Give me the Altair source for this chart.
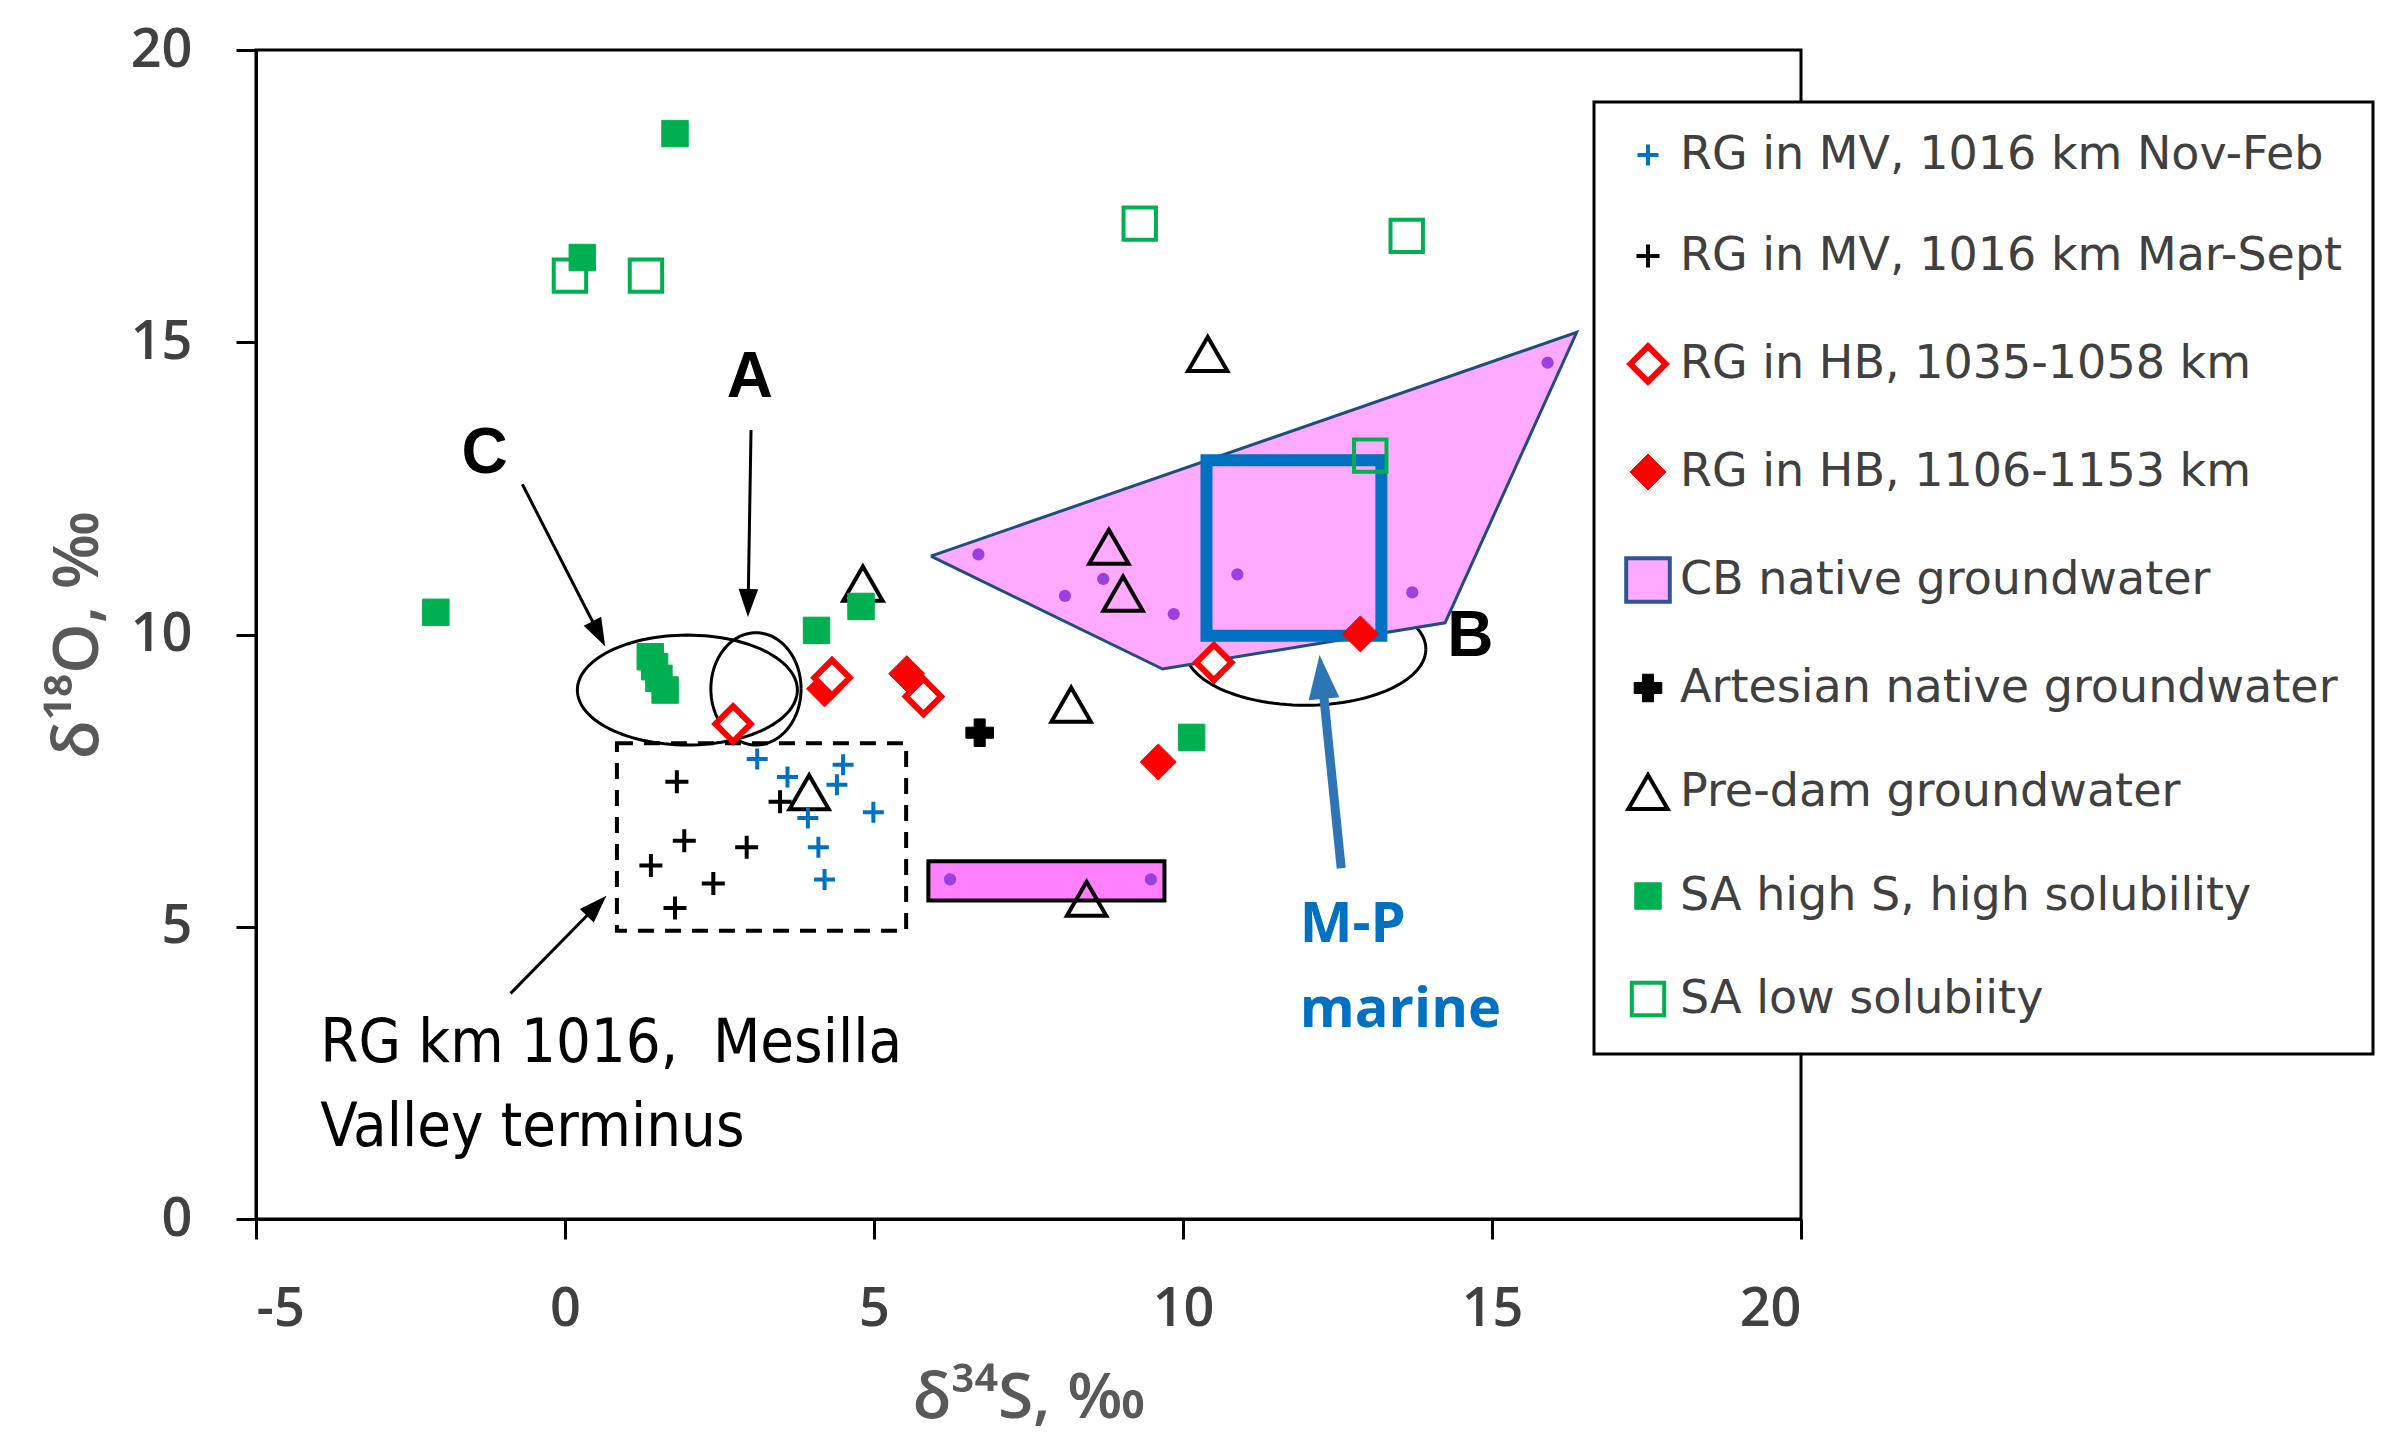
import math
import altair as alt
import pandas as pd

# ---------------- data ----------------
series_names = [
    "RG in MV, 1016 km Nov-Feb",
    "RG in MV, 1016 km Mar-Sept",
    "RG in HB, 1035-1058 km",
    "RG in HB, 1106-1153 km",
    "CB native groundwater",
    "Artesian native groundwater",
    "Pre-dam groundwater",
    "SA high S, high solubility",
    "SA low solubiity",
]

nov_feb_x = [3.11, 3.60, 3.93, 4.10, 4.20, 4.40, 4.50, 4.99]
nov_feb_y = [7.87, 7.56, 6.86, 6.36, 5.81, 7.43, 7.77, 6.96]
mar_sept_x = [1.81, 1.39, 1.93, 2.94, 2.40, 1.78, 3.48]
mar_sept_y = [7.48, 6.05, 6.47, 6.36, 5.74, 5.32, 7.14]
hb_low_x = [2.72, 4.32, 5.80, 10.50]
hb_low_y = [8.47, 9.26, 8.94, 9.52]
hb_high_x = [4.20, 5.53, 9.60, 12.87]
hb_high_y = [9.07, 9.33, 7.82, 10.01]
cb_x = [6.69, 8.09, 8.71, 9.85, 10.88, 13.71, 15.90, 6.23, 9.48]
cb_y = [11.37, 10.66, 10.95, 10.35, 11.03, 10.72, 14.65, 5.81, 5.81]
artesian_x = [6.71]
artesian_y = [8.32]
predam_x = [10.40, 4.82, 8.80, 9.03, 8.19, 3.95, 8.44]
predam_y = [14.80, 10.87, 11.50, 10.70, 8.80, 7.30, 5.48]
sa_high_x = [1.78, 0.28, -2.09, 4.07, 4.79, 1.38, 1.45, 1.52, 1.62, 10.14]
sa_high_y = [18.57, 16.45, 10.38, 10.07, 10.48, 9.62, 9.45, 9.25, 9.05, 8.24]
sa_low_x = [0.08, 1.31, 9.30, 13.62, 13.03]
sa_low_y = [16.14, 16.14, 17.03, 16.82, 13.06]

# CB native groundwater field (polygon vertices) and bar
cb_poly_x = [5.92, 9.67, 14.24, 16.37]
cb_poly_y = [11.34, 9.41, 10.20, 15.17]
cb_bar = [5.88, 9.70, 5.45, 6.12]          # x1, x2, y1, y2
mp_box = [10.38, 13.21, 9.98, 12.98]       # M-P marine box
rg_box = [0.84, 5.52, 4.93, 8.14]          # dashed box

# ellipses: C, A, B (centre x, centre y, rx, ry)
ell_cx = [1.98, 3.09, 11.98]
ell_cy = [9.05, 9.07, 9.75]
ell_rx = [1.78, 0.73, 1.95]
ell_ry = [0.94, 0.96, 0.96]

# arrows (from -> to)
arrow_x0 = [-0.69, 3.01, -0.88]
arrow_y0 = [12.57, 13.50, 3.86]
arrow_x1 = [0.65, 2.96, 0.67]
arrow_y1 = [9.80, 10.30, 5.53]
mp_arrow = [12.56, 6.00, 12.21, 9.65]

letter_text = ["C", "A", "B"]
letter_x = [-1.30, 2.99, 14.65]
letter_y = [13.09, 14.39, 9.96]
note_text = ["RG km 1016,\u00a0 Mesilla", "Valley terminus"]
note_x = [-3.96, -3.96]
note_y = [3.00, 1.56]
mp_text = ["M-P", "marine"]
mp_x = [11.89, 11.89]
mp_y = [5.03, 3.57]

# ---------------- layout ----------------
W, H = 1545, 1169
PXX, PXY = W / 25.0, H / 20.0
xs = alt.Scale(domain=[-5, 20], nice=False, zero=False)
ys = alt.Scale(domain=[0, 20], nice=False, zero=False)

PLUS = "M-1,0L1,0M0,-1L0,1"
HEAD = "M0,-1L0.7,1L-0.7,1Z"
shape_range = [PLUS, PLUS, "diamond", "diamond", "square", "cross", "triangle-up", "square", "square"]
fill_range = ["transparent", "transparent", "white", "#FF0000", "#FFAAFF", "black", "transparent", "#00B050", "transparent"]
stroke_range = ["#0070C0", "black", "#FF0000", "#FF0000", "#2F5597", "black", "black", "#00B050", "#00B050"]
size_range = [441, 529, 1250, 1300, 1900, 760, 1550, 700, 1050]
sw_range = [4, 4, 6, 1, 4, 1, 4, 1, 4]

rows = []
def add(name, xv, yv):
    for a, b in zip(xv, yv):
        rows.append({"series": name, "x": a, "y": b})

add(series_names[6], predam_x, predam_y)
add(series_names[1], mar_sept_x, mar_sept_y)
add(series_names[0], nov_feb_x, nov_feb_y)
add(series_names[3], hb_high_x, hb_high_y)
add(series_names[2], hb_low_x, hb_low_y)
add(series_names[5], artesian_x, artesian_y)
add(series_names[7], sa_high_x, sa_high_y)
add(series_names[8], sa_low_x, sa_low_y)
pts_df = pd.DataFrame(rows)

leg = alt.Legend(orient="none", legendX=1338, legendY=52, padding=30,
                 strokeColor="black", fillColor="white",
                 labelFontSize=46, labelFont="DejaVu Sans", labelColor="#404040",
                 labelLimit=1000, rowPadding=55, labelOffset=8)

x_axis = alt.Axis(
    values=[-5, 0, 5, 10, 15, 20], tickSize=20, tickWidth=3, tickColor="black",
    domainColor="black", domainWidth=3, grid=False,
    labelFontSize=54, labelFont="Open Sans", labelFontWeight=600, labelColor="#404040",
    labelPadding=43, labelExpr="replace(datum.label, '\u2212', '-')",
    title="δ³⁴S, ‰", titleFontSize=64, titleFont="Open Sans", titleFontWeight=600,
    titleColor="#595959", titlePadding=30)
y_axis = alt.Axis(
    values=[0, 5, 10, 15, 20], tickSize=20, tickWidth=3, tickColor="black",
    domainColor="black", domainWidth=3, grid=False,
    labelFontSize=54, labelFont="Open Sans", labelFontWeight=600, labelColor="#404040",
    labelPadding=44, title="δ¹⁸O, ‰", titleFontSize=64, titleFont="Open Sans",
    titleFontWeight=600, titleColor="#595959", titlePadding=20)

def X(f):
    return alt.X(f, scale=xs, axis=x_axis)
def Y(f):
    return alt.Y(f, scale=ys, axis=y_axis)

points = alt.Chart(pts_df).mark_point(opacity=1).encode(
    x=X("x:Q"), y=Y("y:Q"),
    shape=alt.Shape("series:N", title=None, legend=leg,
                    scale=alt.Scale(domain=series_names, range=shape_range)),
    fill=alt.Fill("series:N", title=None, legend=leg,
                  scale=alt.Scale(domain=series_names, range=fill_range)),
    stroke=alt.Stroke("series:N", title=None, legend=leg,
                      scale=alt.Scale(domain=series_names, range=stroke_range)),
    size=alt.Size("series:N", title=None, legend=leg,
                  scale=alt.Scale(type="ordinal", domain=series_names, range=size_range)),
    strokeWidth=alt.StrokeWidth("series:N", title=None, legend=leg,
                                scale=alt.Scale(type="ordinal", domain=series_names, range=sw_range)),
)

# dashed box
rg_df = pd.DataFrame([{"x": rg_box[0], "x2": rg_box[1], "y": rg_box[2], "y2": rg_box[3]}])
dashed = alt.Chart(rg_df).mark_rect(fill="transparent", stroke="black", strokeWidth=4,
                                     strokeDash=[16, 11]).encode(
    x=X("x:Q"), x2="x2:Q", y=Y("y:Q"), y2="y2:Q")

# ellipses
ellipse_layers = []
for cx, cy, rx, ry in zip(ell_cx, ell_cy, ell_rx, ell_ry):
    ellipse_layers.append(
        alt.Chart(alt.sequence(0, 361, 3, as_="t")).transform_calculate(
            ex=f"{cx} + {rx}*cos(datum.t*PI/180)",
            ey=f"{cy} + {ry}*sin(datum.t*PI/180)",
        ).mark_line(color="black", strokeWidth=3).encode(
            x=X("ex:Q"), y=Y("ey:Q"), order="t:Q"))

# polygon (area between upper edge P1-P4 and lower chain P1-P2-P3-P4)
def upper(xv):
    return cb_poly_y[0] + (xv - cb_poly_x[0]) * (cb_poly_y[3] - cb_poly_y[0]) / (cb_poly_x[3] - cb_poly_x[0])
poly_df = pd.DataFrame({"x": cb_poly_x, "lo": cb_poly_y, "hi": [upper(v) for v in cb_poly_x]})
poly_fill = alt.Chart(poly_df).mark_area(color="#FFAAFF", opacity=1).encode(
    x=X("x:Q"), y=Y("lo:Q"), y2="hi:Q")
outline_df = pd.DataFrame({"x": cb_poly_x + [cb_poly_x[0]], "y": cb_poly_y + [cb_poly_y[0]],
                           "o": list(range(5))})
poly_line = alt.Chart(outline_df).mark_line(color="#1F4E79", strokeWidth=3).encode(
    x=X("x:Q"), y=Y("y:Q"), order="o:Q")

bar_df = pd.DataFrame([{"x": cb_bar[0], "x2": cb_bar[1], "y": cb_bar[2], "y2": cb_bar[3]}])
cb_rect = alt.Chart(bar_df).mark_rect(fill="#FF80FF", stroke="black", strokeWidth=4).encode(
    x=X("x:Q"), x2="x2:Q", y=Y("y:Q"), y2="y2:Q")

mp_df = pd.DataFrame([{"x": mp_box[0], "x2": mp_box[1], "y": mp_box[2], "y2": mp_box[3]}])
mp_rect = alt.Chart(mp_df).mark_rect(fill="transparent", stroke="#0070C0", strokeWidth=12).encode(
    x=X("x:Q"), x2="x2:Q", y=Y("y:Q"), y2="y2:Q")

cb_df = pd.DataFrame({"x": cb_x, "y": cb_y})
cb_dots = alt.Chart(cb_df).mark_point(filled=True, shape="circle", size=150, color="#9B3FE0",
                                      opacity=1).encode(x=X("x:Q"), y=Y("y:Q"))

# arrows
def arrow_parts(x0, y0, x1, y1, L):
    dxp = (x1 - x0) * PXX
    dyp = -(y1 - y0) * PXY
    n = math.hypot(dxp, dyp)
    ux, uy = dxp / n, dyp / n
    ang = math.degrees(math.atan2(ux, -uy)) % 360
    hx = x1 - ux * L / 2 / PXX
    hy = y1 + uy * L / 2 / PXY
    return hx, hy, ang

lines, heads = [], []
for x0, y0, x1, y1 in zip(arrow_x0, arrow_y0, arrow_x1, arrow_y1):
    hx, hy, ang = arrow_parts(x0, y0, x1, y1, 28)
    lines.append({"x": x0, "y": y0, "x2": hx, "y2": hy})
    heads.append({"x": hx, "y": hy, "ang": ang})
arr_lines = alt.Chart(pd.DataFrame(lines)).mark_rule(color="black", strokeWidth=3).encode(
    x=X("x:Q"), y=Y("y:Q"), x2="x2:Q", y2="y2:Q")
arr_heads = alt.Chart(pd.DataFrame(heads)).mark_point(shape=HEAD, filled=True, color="black",
                                                      size=28 * 28, opacity=1).encode(
    x=X("x:Q"), y=Y("y:Q"), angle=alt.Angle("ang:Q", scale=None))

mhx, mhy, mang = arrow_parts(mp_arrow[0], mp_arrow[1], mp_arrow[2], mp_arrow[3], 44)
mp_line = alt.Chart(pd.DataFrame([{"x": mp_arrow[0], "y": mp_arrow[1], "x2": mhx, "y2": mhy}])).mark_rule(
    color="#2E75B6", strokeWidth=9).encode(x=X("x:Q"), y=Y("y:Q"), x2="x2:Q", y2="y2:Q")
mp_head = alt.Chart(pd.DataFrame([{"x": mhx, "y": mhy, "ang": mang}])).mark_point(
    shape=HEAD, filled=True, color="#2E75B6", size=44 * 44, opacity=1).encode(
    x=X("x:Q"), y=Y("y:Q"), angle=alt.Angle("ang:Q", scale=None))

# texts
letters = alt.Chart(pd.DataFrame({"x": letter_x, "y": letter_y, "t": letter_text})).mark_text(
    font="Liberation Sans", fontSize=64, fontWeight="bold", color="black", baseline="middle",
    align="center").encode(x=X("x:Q"), y=Y("y:Q"), text="t:N")
notes = alt.Chart(pd.DataFrame({"x": note_x, "y": note_y, "t": note_text})).mark_text(
    font="Liberation Sans Narrow, DejaVu Sans Condensed, Liberation Sans", fontSize=61,
    color="black", baseline="middle", align="left").encode(x=X("x:Q"), y=Y("y:Q"), text="t:N")
mp_labels = alt.Chart(pd.DataFrame({"x": mp_x, "y": mp_y, "t": mp_text})).mark_text(
    font="Open Sans", fontSize=56, fontWeight="bold", color="#0070C0", baseline="middle",
    align="left").encode(x=X("x:Q"), y=Y("y:Q"), text="t:N")

chart = alt.layer(
    dashed, *ellipse_layers, poly_fill, poly_line, cb_rect, mp_rect,
    points, cb_dots, arr_lines, arr_heads, mp_line, mp_head, letters, notes, mp_labels,
).properties(
    width=W, height=H,
    autosize=alt.AutoSizeParams(type="none"),
    padding={"left": 248, "top": 42, "right": 580, "bottom": 226},
).configure_view(stroke="black", strokeWidth=3).configure_legend(strokeWidth=3)

chart.save("out.html", embed_options={"renderer": "svg", "actions": False})
